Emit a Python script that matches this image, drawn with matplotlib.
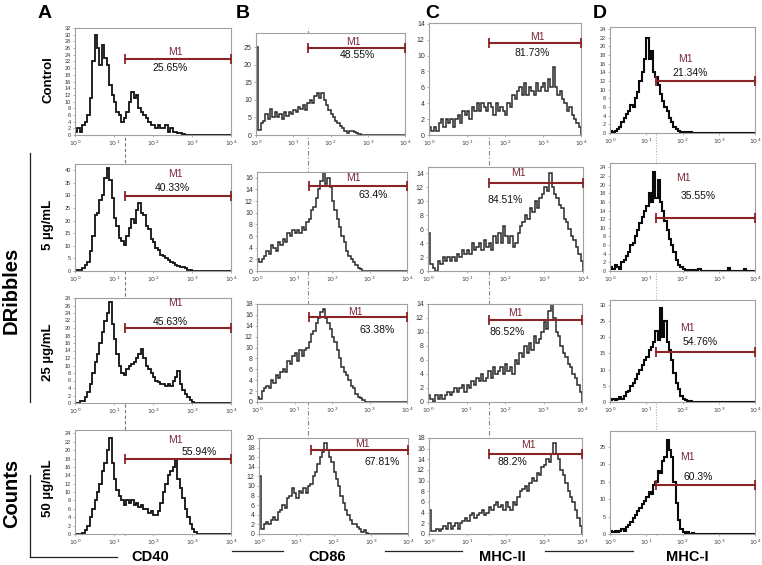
import numpy as np
import matplotlib
matplotlib.use('Agg')
import matplotlib.pyplot as plt
from matplotlib.lines import Line2D
from matplotlib.transforms import blended_transform_factory

plt.rcParams['font.family'] = ['Liberation Sans', 'DejaVu Sans']

# histogram counts, 64 channels spread evenly over 10^0 .. 10^4
cd40_ctrl = [1, 2, 1, 3, 4, 6, 11, 22, 30, 26, 21, 27, 23, 21, 15, 12,
             10, 7, 6, 4, 5, 7, 10, 13, 11, 12, 8, 7, 6, 5, 4, 3,
             3, 2, 3, 2, 2, 3, 1, 2, 1, 1, 0.5, 0.5, 0.3, 0, 0, 0,
             0, 0, 0, 0, 0, 0, 0, 0, 0, 0, 0, 0, 0, 0, 0, 0]
cd40_5 = [0, 0.5, 0.5, 1, 2.5, 3.5, 8, 14, 22, 23, 28, 30, 37, 41, 36, 29,
          21, 18, 13, 12, 10.5, 14, 17, 20.5, 19, 24, 27, 23, 22, 18, 16.5, 12.5,
          11.5, 9, 8.5, 6.5, 6, 5, 4.5, 3.5, 3, 2.5, 2, 1.5, 1.5, 1, 0.5, 0.3,
          0, 0, 0, 0, 0, 0, 0, 0, 0, 0, 0, 0, 0, 0, 0, 0]
cd40_25 = [0, 0, 0.5, 0.5, 1.5, 3, 5, 8, 11, 13, 16, 19, 22, 24, 27, 21,
           17, 13, 10, 8, 7.5, 9, 10, 10.5, 11, 12, 13, 14.5, 12, 10, 9, 8,
           7, 6, 5.5, 5, 5, 4.5, 5, 4.5, 6, 7, 8.5, 5, 3.5, 2.5, 1.5, 0.8,
           0.3, 0, 0, 0, 0, 0, 0, 0, 0, 0, 0, 0, 0, 0, 0, 0]
cd40_50 = [0, 0, 0, 0.3, 1, 2, 4, 6, 8, 10, 12, 15, 17, 20, 23, 17,
           13, 10.5, 9, 8, 7, 8, 7.5, 8, 7, 7.5, 6.5, 7, 6, 6, 5, 5.5,
           4.5, 4.5, 5.5, 7.5, 10, 12, 14, 15, 16, 18, 13, 11, 8.5, 6, 4, 2.5,
           1.3, 0.5, 0, 0, 0, 0, 0, 0, 0, 0, 0, 0, 0, 0, 0, 0]

cd86_ctrl = [25, 1.5, 3.5, 4, 6, 4.5, 7.5, 5, 6.5, 5, 6, 4.5, 6.5, 5.5, 6.5, 6,
             7, 6.5, 8, 7.5, 8.5, 7, 9, 10, 9, 11, 12, 10.5, 12, 10, 8.5, 7,
             6, 5, 4, 3.5, 2.5, 2, 1, 0.5, 1, 1, 0.8, 0.5, 0.3, 0, 0, 0,
             0, 0, 0, 0, 0, 0, 0, 0, 0, 0, 0, 0, 0, 0, 0, 0]
cd86_5 = [2, 1.5, 2, 2.5, 3.5, 3, 4.5, 4, 3.5, 5, 4.5, 5.5, 5, 6.5, 6, 7,
          6.5, 7, 6.5, 7.5, 7, 8.5, 9, 10.5, 11, 12.5, 14, 15.5, 17, 15, 16, 14.5,
          12, 10.5, 9, 7.5, 6, 5, 3.5, 2.5, 2, 1.5, 1, 0.5, 0.3, 0, 0, 0,
          0, 0, 0, 0, 0, 0, 0, 0, 0, 0, 0, 0, 0, 0, 0, 0]
cd86_25 = [1, 0.5, 2, 2.5, 3, 2.5, 4, 3.5, 5, 4.5, 5.5, 6, 5.5, 7.5, 7, 8.5,
           9, 7.5, 9.5, 8.5, 9.5, 10, 11, 12.5, 13, 14.5, 15.5, 16.5, 17, 15.5, 14.5, 13.5,
           12, 11, 9.5, 8, 6.5, 5.5, 5, 4, 3, 2.5, 1.5, 1, 0.8, 0.3, 0, 0,
           0, 0, 0, 0, 0, 0, 0, 0, 0, 0, 0, 0, 0, 0, 0, 0]
cd86_50 = [12, 1, 2, 2.5, 2, 3, 3.5, 3, 4.5, 5, 6, 5.5, 7.5, 8, 9.5, 8.5,
           7.5, 9, 8.5, 9.5, 8.5, 10, 10.5, 12, 13, 14.5, 16, 17, 19, 17.5, 16, 15,
           13, 11.5, 10, 8, 6.5, 5, 4, 3, 2, 2, 1.5, 1, 0.5, 0.8, 0.3, 0,
           0, 0, 0, 0, 0, 0, 0, 0, 0, 0, 0, 0, 0, 0, 0, 0]

mhc2_ctrl = [1, 0.5, 1, 0.5, 1.5, 2, 1, 2, 1.5, 2, 1, 2, 2.5, 1.5, 3, 2.5,
             3, 2, 3.5, 3, 4, 3, 4, 3.5, 3, 4, 3.5, 2.5, 4, 3, 3.5, 3,
             2.5, 4, 3.5, 5, 4.5, 5.5, 6, 5, 6.5, 5, 6, 5.5, 5, 6.5, 5.5, 6,
             6.5, 5.5, 7, 6, 8.5, 6, 5, 5.5, 4.5, 4, 3, 3.5, 2.5, 2, 1.5, 1]
mhc2_5 = [5.5, 1, 0.5, 0, 1.5, 1, 2, 1.5, 2, 1.5, 2, 1.5, 2.5, 2, 3, 2.5,
          3, 2.5, 4, 3, 3.5, 4, 3, 4.5, 3.5, 4, 3, 5, 4, 5.5, 4, 6.5,
          5, 4, 5, 3.5, 4, 5.5, 6.5, 7, 8, 7.5, 9, 8.5, 10, 9, 10.5, 11,
          12, 11.5, 14, 12, 11, 10.5, 9.5, 9, 7.5, 7, 6, 5, 4.5, 3.5, 2.5, 1.5]
mhc2_25 = [1, 0.5, 0, 1, 0.5, 1, 0.5, 1, 1.5, 1, 1.5, 2, 1.5, 2, 2.5, 1.5,
           2.5, 2, 3, 2.5, 3.5, 3, 4, 3, 3.5, 4.5, 3.5, 5, 4, 4.5, 5, 4,
           5.5, 4.5, 5, 4, 6, 5.5, 7, 6.5, 8, 7, 8.5, 7.5, 9.5, 8.5, 9, 10,
           11.5, 10.5, 13, 14, 12, 10, 9.5, 8, 7, 6.5, 5.5, 5, 4, 3.5, 2.5, 1.5]
mhc2_50 = [4.5, 0.5, 0.5, 1, 0.5, 1, 1.5, 1, 2, 1, 1.5, 2, 1, 2, 2.5, 3,
           2.5, 3.5, 4, 3, 3.5, 4, 4.5, 3.5, 4, 5, 4.5, 5.5, 6, 5, 5.5, 4.5,
           6, 5, 4.5, 6, 5.5, 7, 8, 8.5, 9, 8, 9.5, 10.5, 10, 11.5, 11, 12.5,
           13, 14, 13.5, 15, 17, 15, 14, 12, 11, 9.5, 8, 7, 6, 4.5, 3, 1.5]

mhc1_ctrl = [0.5, 0.3, 0.5, 1, 1.5, 2.5, 3.5, 4.5, 5, 6.5, 6, 8, 9.5, 12, 14, 17,
             22, 17, 19, 14, 13, 11, 9, 7.5, 6, 5, 3.5, 2.5, 1.5, 1, 0.5, 0.3,
             0.2, 0.3, 0, 0.2, 0, 0, 0, 0, 0, 0, 0, 0, 0, 0, 0, 0,
             0, 0, 0, 0, 0, 0, 0, 0, 0, 0, 0, 0, 0, 0, 0, 0]
mhc1_5 = [1, 0.5, 1.5, 1, 0.5, 2, 2.5, 3.5, 4.5, 6, 6.5, 8, 9.5, 11, 12.5, 14,
          15, 18, 16, 23, 17, 21, 16, 14, 11.5, 9.5, 7.5, 6, 4.5, 2.5, 1.5, 1,
          0.5, 0.3, 0.2, 0.3, 0, 0.2, 0, 0.5, 0, 0, 0, 0, 0, 0, 0, 0,
          0, 0, 0, 0, 0.8, 0, 0, 0, 0, 0, 0, 0.5, 0, 0, 0, 0]
mhc1_25 = [0.5, 1, 0.5, 1, 1.5, 1, 2, 3, 3.5, 5, 6, 7, 8.5, 10, 11.5, 13,
           14, 16, 17, 18.5, 22, 19, 29, 20, 25, 18.5, 16, 13, 9, 6, 4, 2,
           1, 0.5, 0.3, 0.2, 0, 0, 0, 0, 0, 0, 0, 0, 0, 0, 0, 0,
           0, 0, 0, 0, 0, 0, 0, 0, 0, 0, 0, 0, 0, 0, 0, 0]
mhc1_50 = [1, 0.5, 1, 0.5, 1, 1.5, 1, 2, 2.5, 3.5, 4.5, 5.5, 6.5, 7.5, 8.5, 9.5,
           10.5, 12, 11.5, 14, 15, 18, 17.5, 21, 22, 27, 24, 22, 15, 9, 4, 1.5,
           0.5, 0.3, 0.5, 0, 0.3, 0, 0, 0, 0, 0, 0, 0, 0, 0, 0, 0,
           0, 0, 0, 0, 0, 0, 0, 0, 0, 0, 0, 0, 0, 0, 0, 0]

markers = ['CD40', 'CD86', 'MHC-II', 'MHC-I']
doses = ['Control', '5 µg/mL', '25 µg/mL', '50 µg/mL']
hists = [[cd40_ctrl, cd86_ctrl, mhc2_ctrl, mhc1_ctrl],
         [cd40_5, cd86_5, mhc2_5, mhc1_5],
         [cd40_25, cd86_25, mhc2_25, mhc1_25],
         [cd40_50, cd86_50, mhc2_50, mhc1_50]]
m1_pct = [['25.65%', '48.55%', '81.73%', '21.34%'],
          ['40.33%', '63.4%', '84.51%', '35.55%'],
          ['45.63%', '63.38%', '86.52%', '54.76%'],
          ['55.94%', '67.81%', '88.2%', '60.3%']]
m1_level = [[22.7, 24.7, 11.6, 12.0],
            [29.7, 14.6, 12.6, 12.2],
            [20.0, 15.6, 11.7, 15.5],
            [17.8, 17.5, 15.0, 14.1]]
gate = [19, 24.5, 38, 19]

edges = np.logspace(0, 4, 65)

# ---- layout (pixels) ----
W, H = 762, 565
boxes = [[(75, 28, 231, 135), (256, 33, 405, 135), (429, 23, 581, 135), (610, 27, 755, 133)],
         [(75, 164, 231, 271), (257, 172, 407, 271), (428, 167, 583, 271), (610, 163, 755, 271)],
         [(75, 298, 231, 403), (257, 304, 407, 402), (428, 304, 582, 402), (610, 300, 755, 402)],
         [(75, 430, 231, 534), (259, 438, 408, 534), (429, 438, 582, 534), (610, 431, 755, 534)]]
ytop = [[32, 29, 14.1, 24.5], [42.4, 17, 14.9, 25], [28, 18, 14, 31.5], [24.8, 20, 18, 29.6]]
ystep = [[2, 5, 2, 2], [5, 2, 2, 2], [2, 2, 2, 5], [2, 2, 2, 5]]
ymax_tick = [[32, 25, 14, 24], [40, 16, 14, 24], [28, 18, 14, 30], [24, 20, 18, 25]]
m1_xy = [[(175, 52), (353, 42), (537, 37), (685, 59)],
         [(175, 174), (353, 178), (518, 173), (683, 178)],
         [(175, 303), (355, 312), (515, 313), (687, 328)],
         [(175, 440), (362, 444), (528, 445), (687, 457)]]
pct_xy = [[(170, 68), (357, 55), (532, 53), (690, 73)],
          [(172, 188), (373, 195), (505, 200), (698, 196)],
          [(170, 322), (377, 330), (507, 332), (700, 342)],
          [(199, 452), (382, 462), (512, 462), (698, 477)]]

red = '#8b2525'
line_col = ['#111111', '#2a2a2a', '#2a2a2a', '#0a0a0a']
line_w = [1.3, 1.1, 1.1, 1.5]
tick_fs = [4, 5, 5, 4]


def fx(x):
    return x / W


def fy(y):
    return 1 - y / H


fig = plt.figure(figsize=(W / 100, H / 100), dpi=100)
axes = [[None] * 4 for _ in range(4)]
for r in range(4):
    for c in range(4):
        l, t, rr, b = boxes[r][c]
        ax = fig.add_axes([fx(l), fy(b), (rr - l) / W, (b - t) / H])
        axes[r][c] = ax
        ax.stairs(hists[r][c], edges, color=line_col[c], lw=line_w[c])
        ax.set_xscale('log')
        ax.set_xlim(1, 1e4)
        ax.set_ylim(0, ytop[r][c])
        ax.set_xticks([1, 10, 100, 1000, 10000])
        ax.set_xticklabels(['$10^{0}$', '$10^{1}$', '$10^{2}$', '$10^{3}$', '$10^{4}$'])
        ax.xaxis.set_minor_locator(matplotlib.ticker.NullLocator())
        yt = np.arange(0, ymax_tick[r][c] + 0.1, ystep[r][c])
        ax.set_yticks(yt)
        ax.set_yticklabels([str(int(v)) for v in yt])
        ax.tick_params(axis='both', length=1.5, width=0.5, colors='#999999', pad=1.5)
        ax.tick_params(axis='x', labelsize=4.5, labelcolor='#444444')
        ax.tick_params(axis='y', labelsize=tick_fs[c], labelcolor='#333333')
        for s in ax.spines.values():
            s.set_color('#a0a0a0')
            s.set_linewidth(0.8)
        # M1 gate marker
        ax.plot([gate[c], 1e4], [m1_level[r][c]] * 2, color=red, lw=1.5,
                marker='|', ms=7, mew=1.3, clip_on=False, zorder=5)
        fig.text(fx(m1_xy[r][c][0]), fy(m1_xy[r][c][1]), 'M1', color='#7a2636',
                 fontsize=7.5, ha='center', va='center')
        fig.text(fx(pct_xy[r][c][0]), fy(pct_xy[r][c][1]), m1_pct[r][c], color='#111111',
                 fontsize=7.5, ha='center', va='center')

# gate lines running through each column
gate_top = [60, 28, 32, 30]
gate_style = [((0, (3, 2)), '#777777'), ((0, (4, 2, 1, 2)), '#888888'),
              ((0, (4, 2, 1, 2)), '#888888'), ((0, (1, 1.5)), '#b0b0b0')]
for c in range(4):
    tr = blended_transform_factory(axes[0][c].transData, fig.transFigure)
    ls, col = gate_style[c]
    fig.add_artist(Line2D([gate[c], gate[c]], [fy(535), fy(gate_top[c])], transform=tr,
                          color=col, lw=0.8, linestyle=ls, zorder=0))

# column letters
for letter, x in zip(['A', 'B', 'C', 'D'], [45, 243, 432, 600]):
    fig.text(fx(x), fy(13), letter, fontsize=14, fontweight='bold', ha='center', va='center')

# row labels
for dose, y in zip(doses, [80, 225, 352, 488]):
    fig.text(fx(48), fy(y), dose, fontsize=9.5, fontweight='bold', rotation=90,
             ha='center', va='center')
fig.text(fx(11), fy(290), 'DRibbles', fontsize=14.5, fontweight='bold', rotation=90,
         ha='center', va='center')
fig.text(fx(12), fy(493), 'Counts', fontsize=14.5, fontweight='bold', rotation=90,
         ha='center', va='center')

# marker names under the columns
for name, x in zip(markers, [150, 327, 502, 687]):
    fig.text(fx(x), fy(557), name, fontsize=10.5, fontweight='bold', ha='center', va='center')

# bracket lines
seg = [((30, 30), (153, 402)), ((30, 30), (475, 557)), ((30, 117), (557, 557)),
       ((232, 283), (551, 551)), ((385, 462), (551, 551)), ((545, 633), (551, 551))]
for xs, ys in seg:
    fig.add_artist(Line2D([fx(xs[0]), fx(xs[1])], [fy(ys[0]), fy(ys[1])],
                          transform=fig.transFigure, color='#222222', lw=0.9))

fig.savefig('out.png', dpi=100)
